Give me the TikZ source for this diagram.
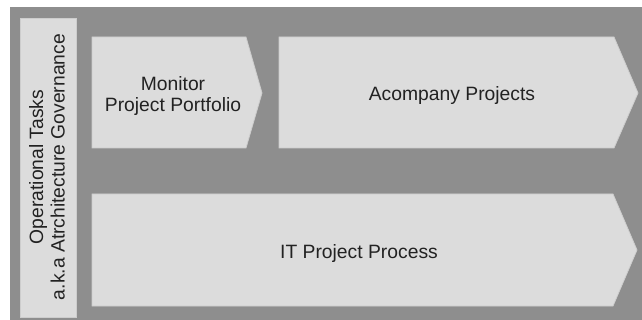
\documentclass[tikz,border=0pt]{standalone}
\usepackage{fontspec}
\setmainfont{Liberation Sans}
\definecolor{bg}{HTML}{8E8E8E}
\definecolor{shapefill}{HTML}{DCDCDC}
\definecolor{shapeline}{HTML}{CDCDCD}
\definecolor{txt}{HTML}{222222}
\begin{document}
\begin{tikzpicture}[x=1pt,y=-1pt,
  chev/.style={fill=shapefill,draw=shapeline,line width=0.8pt},
  lbl/.style={text=txt,font=\fontsize{19.3}{21.5}\selectfont,align=center,inner sep=0pt}]
\useasboundingbox (0,0) rectangle (642,320);
\fill[white] (0,0) rectangle (642,320);
\fill[bg] (10,7) rectangle (642,320);
% left vertical box
\draw[chev] (20,18) rectangle (76,317);
% chevrons
\draw[chev] (92,37) -- (246,37) -- (262,93) -- (246,148) -- (92,148) -- cycle;
\draw[chev] (279,37) -- (614,37) -- (638,93) -- (614,148) -- (279,148) -- cycle;
\draw[chev] (92,194) -- (613,194) -- (637,250) -- (613,306) -- (92,306) -- cycle;
% labels
\node[lbl,rotate=90] (gov) at (47,167) {Operational Tasks\\a.k.a Atrchitecture Governance};
\node[lbl] (mon) at (173,96) {Monitor\\Project Portfolio};
\node[lbl] (acc) at (452,96) {Acompany Projects};
\node[lbl] (itp) at (359,254) {IT Project Process};
\end{tikzpicture}
\end{document}
